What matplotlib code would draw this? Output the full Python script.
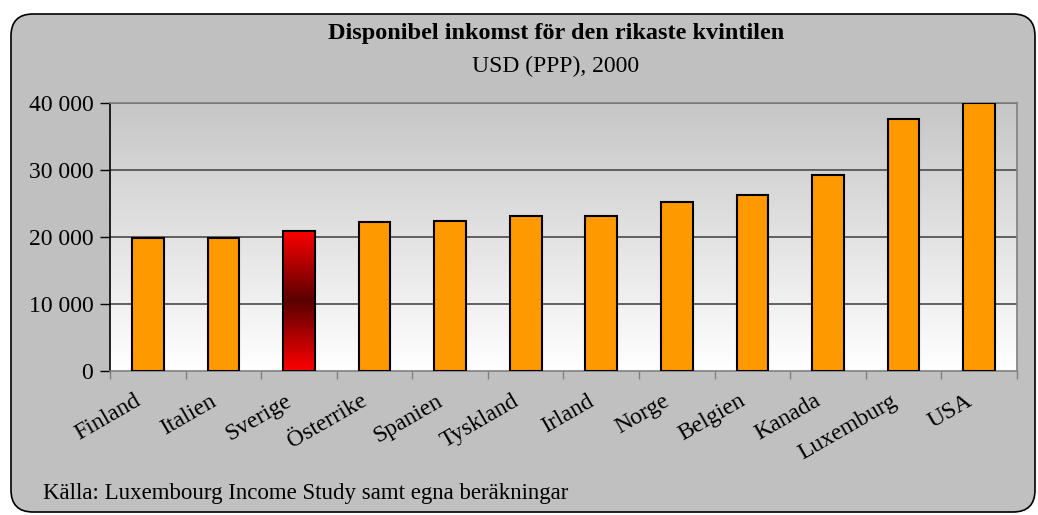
import numpy as np
import matplotlib
matplotlib.use("Agg")
import matplotlib.pyplot as plt
from matplotlib.patches import FancyBboxPatch

countries = ["Finland", "Italien", "Sverige", "Österrike", "Spanien", "Tyskland",
             "Irland", "Norge", "Belgien", "Kanada", "Luxemburg", "USA"]
income = [19900, 19900, 20900, 22200, 22400, 23100,
          23200, 25200, 26300, 29300, 37600, 40000]
highlight = "Sverige"
yticks = [0, 10000, 20000, 30000, 40000]
ytick_labels = ["0", "10 000", "20 000", "30 000", "40 000"]

plt.rcParams['font.family'] = ['Liberation Serif', 'DejaVu Serif']

fig = plt.figure(figsize=(10.38, 5.15), dpi=100)
W, H = 1038, 515

# outer rounded frame (pixel coords)
frame = FancyBboxPatch((11, 3), 1024, 498,
                       boxstyle="round,pad=0,rounding_size=22",
                       transform=None, facecolor="#c0c0c0",
                       edgecolor="black", linewidth=1.2, zorder=-1)
fig.patches.append(frame)

ax = fig.add_axes([110 / W, (H - 371) / H, (1017 - 110) / W, (371 - 103) / H])
ax.set_facecolor("none")

# background gradient, grey at top to white at bottom
grad = np.linspace(0, 1, 256).reshape(-1, 1)
ax.imshow(grad, cmap=matplotlib.colors.LinearSegmentedColormap.from_list(
    "bg", ["#ffffff", "#c6c6c6"]), aspect="auto", origin="lower",
    extent=[-0.5, len(countries) - 0.5, 0, 40000], zorder=0)

for yv in yticks[1:]:
    ax.axhline(yv, color="#4a4a4a", linewidth=1.2, zorder=1)

bw = 0.42
red_cmap = matplotlib.colors.LinearSegmentedColormap.from_list(
    "red", ["#ff0000", "#5a0000", "#ff0000"])
for i, (c, v) in enumerate(zip(countries, income)):
    if c == highlight:
        g = np.linspace(0, 1, 256).reshape(-1, 1)
        ax.imshow(g, cmap=red_cmap, aspect="auto", origin="lower",
                  extent=[i - bw / 2, i + bw / 2, 0, v], zorder=2)
        ax.bar(i, v, width=bw, facecolor="none", edgecolor="black",
               linewidth=1.5, zorder=3)
    else:
        ax.bar(i, v, width=bw, color="#ff9900", edgecolor="black",
               linewidth=1.5, zorder=3)

ax.set_xlim(-0.5, len(countries) - 0.5)
ax.set_ylim(0, 40000)

ax.set_yticks(yticks)
ax.set_yticklabels(ytick_labels, fontsize=17)
ax.set_xticks(np.arange(len(countries) + 1) - 0.5)
ax.set_xticklabels([])
ax.tick_params(axis="y", length=7, width=1, color="black", pad=5)
ax.tick_params(axis="x", length=6, width=1, color="#808080")

for i, c in enumerate(countries):
    ax.annotate(c, xy=(i, 0), xycoords=("data", "axes fraction"),
                xytext=(-10, -14), textcoords="offset points",
                rotation=30, ha="right", va="top", rotation_mode="anchor",
                fontsize=17)

ax.spines["left"].set_color("black")
ax.spines["left"].set_linewidth(1.2)
for s in ["top", "right", "bottom"]:
    ax.spines[s].set_color("#808080")
    ax.spines[s].set_linewidth(1.2)

fig.text(556 / W, 1 - 34 / H, "Disponibel inkomst för den rikaste kvintilen",
         ha="center", va="center", fontsize=17.5, fontweight="bold")
fig.text(556 / W, 1 - 66 / H, "USD (PPP), 2000", ha="center", va="center",
         fontsize=17)
fig.text(43 / W, 1 - 493 / H,
         "Källa: Luxembourg Income Study samt egna beräkningar",
         ha="left", va="center", fontsize=16.5)

fig.savefig("out.png", dpi=100)
